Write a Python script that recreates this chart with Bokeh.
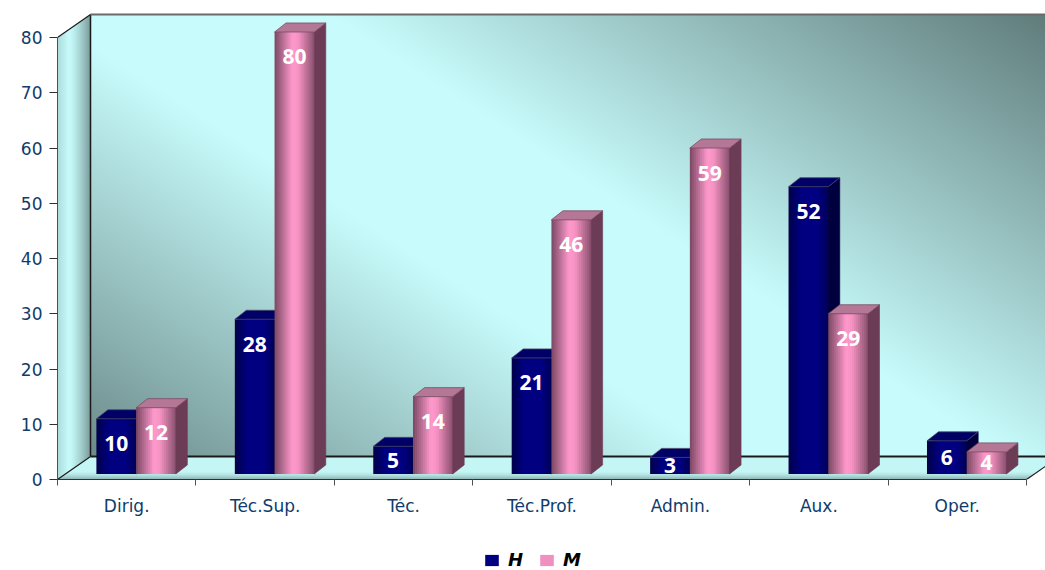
import numpy as np
from bokeh.plotting import figure
from bokeh.layouts import column
from bokeh.models import (Range1d, FixedTicker, CustomJSTickFormatter, Legend,
                          LegendItem, ColumnDataSource)
from bokeh.core.properties import value
from bokeh.embed import file_html
from bokeh.resources import INLINE

# ---- data -------------------------------------------------------------
categories = ["Dirig.", "Téc.Sup.", "Téc.", "Téc.Prof.", "Admin.", "Aux.", "Oper."]
h_values = [10, 28, 5, 21, 3, 52, 6]
m_values = [12, 80, 14, 46, 59, 29, 4]
y_ticks = [0, 10, 20, 30, 40, 50, 60, 70, 80]
series_names = ["H", "M"]

# ---- geometry of the pseudo-3D box ------------------------------------
N = len(categories)
Y_TOP = 80                 # top of the value axis
SX = 138.43                # px per category
SY = 5.525                 # px per value unit
FW, FH = 988, 467          # frame size in px
XMAX = FW / SX
YMAX = FH / SY
DX = 33 / SX               # box depth (x shift)
DY = 23 / SY               # box depth (y shift)

BAR_OFF = 0.281            # left edge of first bar inside a category
BAR_W = 0.287              # bar width (gap width 150%)
BASE = 1.0                 # bar base lifted by its depth position
BDX = 11.5 / SX            # bar depth
BDY = 9.0 / SY

TOP_BORDER, BOTTOM_BORDER, LEFT_BORDER = 12, 50, 57

p = figure(frame_width=FW, frame_height=FH, x_range=Range1d(0, XMAX), y_range=Range1d(0, YMAX),
           output_backend="svg", toolbar_location=None,
           min_border_left=LEFT_BORDER, min_border_right=0, min_border_top=TOP_BORDER,
           min_border_bottom=BOTTOM_BORDER,
           background_fill_color="white", border_fill_color="white")
p.outline_line_color = None
p.xgrid.visible = False
p.ygrid.visible = False

# ---- walls and floor as a shaded raster -------------------------------
def blend(c0, c1, f):
    c0 = np.array(c0, dtype=float)
    c1 = np.array(c1, dtype=float)
    return c0[None, None, :] * (1 - f[..., None]) + c1[None, None, :] * f[..., None]

xs = (np.arange(FW) + 0.5) / FW * XMAX
ys = (np.arange(FH) + 0.5) / FH * YMAX
X, Y = np.meshgrid(xs, ys)

light = (200, 252, 252)
dark = (94, 122, 121)

rgb = np.zeros((FH, FW, 3))
alpha = np.zeros((FH, FW))

# back wall: diagonal light band with darker corners
u = (X - DX) / N
v = (Y_TOP + DY - Y) / Y_TOP
t = u - 0.10 - 0.70 * v
f = np.clip((np.abs(t) - 0.15) / 0.75, 0, 1)
back = (X >= DX) & (Y >= DY) & (Y <= Y_TOP + DY)
col = blend(light, dark, f)
rgb[back] = col[back]
alpha[back] = 255

# left side wall: horizontal shading
su = np.clip(X / DX, 0, 1)
side = (X < DX) & (Y >= su * DY) & (Y <= Y_TOP + su * DY)
fs = np.where(su < 0.35, (0.35 - su) / 0.35 * 0.25,
              np.clip((su - 0.35) / 0.65, 0, 1) ** 1.3 * 0.75)
col = blend(light, dark, fs)
rgb[side] = col[side]
alpha[side] = 255

# floor: light, darkening toward its front edge
fv = np.clip(Y / DY, 0, 1)
floor = (Y < DY) & (X >= fv * DX) & (X <= N + fv * DX)
ff = np.clip((0.35 - fv) / 0.35, 0, 1) ** 1.5 * 0.55
col = blend((196, 246, 246), dark, ff)
rgb[floor] = col[floor]
alpha[floor] = 255

img = np.zeros((FH, FW), dtype=np.uint32)
view = img.view(dtype=np.uint8).reshape((FH, FW, 4))
view[..., 0] = rgb[..., 0].astype(np.uint8)
view[..., 1] = rgb[..., 1].astype(np.uint8)
view[..., 2] = rgb[..., 2].astype(np.uint8)
view[..., 3] = alpha.astype(np.uint8)
p.image_rgba(image=[img], x=0, y=0, dw=XMAX, dh=YMAX)

# box edges
edge = "#1a1a1a"
p.line([0, DX], [Y_TOP, Y_TOP + DY], line_color=edge, line_width=1.2)
p.line([0, DX], [0, DY], line_color=edge, line_width=1.2)
p.line([DX, DX], [DY, Y_TOP + DY], line_color=edge, line_width=1.5)
p.line([DX, XMAX], [Y_TOP + DY, Y_TOP + DY], line_color="#6a6a6a", line_width=2)
p.line([DX, N + DX], [DY, DY], line_color=edge, line_width=2)
p.line([N, N + DX], [0, DY], line_color=edge, line_width=1.2)

# ---- bars -------------------------------------------------------------
def profile(stops, tt):
    for (p0, c0), (p1, c1) in zip(stops[:-1], stops[1:]):
        if p0 <= tt <= p1:
            a = (tt - p0) / (p1 - p0)
            c = [round(c0[k] + (c1[k] - c0[k]) * a) for k in range(3)]
            return "#%02x%02x%02x" % tuple(c)
    return "#%02x%02x%02x" % tuple(stops[-1][1])

styles = [
    dict(front=[(0, (0, 0, 0x48)), (0.3, (0, 0, 0x80)), (0.75, (0, 0, 0x80)), (1, (0, 0, 0x58))],
         side="#00003e", top="#000066", top_line="#4a4a66", legend="#000080"),
    dict(front=[(0, (0x7a, 0x48, 0x62)), (0.45, (0xff, 0x99, 0xcc)), (0.6, (0xf6, 0x93, 0xc3)),
                (1, (0x88, 0x50, 0x6e))],
         side="#6c3b55", top="#b47896", top_line="#7a4a62", legend="#f090c0"),
]

NSTRIP = 20
label_x, label_y, label_t = [], [], []
for s, vals in enumerate([h_values, m_values]):
    st = styles[s]
    sl, sr, sb, stp, sc = [], [], [], [], []
    side_xs, side_ys, top_xs, top_ys = [], [], [], []
    for i, val in enumerate(vals):
        x0 = i + BAR_OFF + s * BAR_W
        x1 = x0 + BAR_W
        y1 = BASE + val
        # shaded front face: overlapping strips, each running to the right edge
        for k in range(NSTRIP):
            sl.append(x0 + k * BAR_W / NSTRIP)
            sr.append(x1)
            sb.append(BASE)
            stp.append(y1)
            sc.append(profile(st["front"], (k + 0.5) / NSTRIP))
        side_xs.append([x1, x1 + BDX, x1 + BDX, x1])
        side_ys.append([BASE, BASE + BDY, y1 + BDY, y1])
        top_xs.append([x0, x1, x1 + BDX, x0 + BDX])
        top_ys.append([y1, y1, y1 + BDY, y1 + BDY])
        h_px = val * SY
        off = min(25.0, h_px / 2.0)
        label_x.append(x0 + BAR_W / 2)
        label_y.append(y1 - off / SY)
        label_t.append(str(val))
    p.quad(left="l", right="r", bottom="b", top="t", fill_color="c", line_color=None,
           source=ColumnDataSource(dict(l=sl, r=sr, b=sb, t=stp, c=sc)))
    p.patches(side_xs, side_ys, fill_color=st["side"], line_color=st["side"], line_width=0.6)
    p.patches(top_xs, top_ys, fill_color=st["top"], line_color=st["top_line"], line_width=0.8)

p.text(x=label_x, y=label_y, text=label_t, text_color="white", text_font=value("Open Sans"),
       text_font_style="bold", text_font_size="21px", text_align="center", text_baseline="middle")

# ---- axes -------------------------------------------------------------
tick_color = "#0f3c6c"
ya = p.yaxis[0]
ya.ticker = FixedTicker(ticks=y_ticks)
ya.bounds = (0, Y_TOP)
ya.axis_line_color = "#505050"
ya.major_tick_line_color = "#303030"
ya.major_tick_out = 8
ya.major_tick_in = 0
ya.minor_tick_line_color = None
ya.major_label_standoff = 7
ya.major_label_text_font = "DejaVu Sans"
ya.major_label_text_font_size = "17px"
ya.major_label_text_color = tick_color

xa = p.xaxis[0]
xa.ticker = FixedTicker(ticks=[i + 0.5 for i in range(N)], minor_ticks=list(range(N + 1)))
xa.formatter = CustomJSTickFormatter(args=dict(names=categories),
                                     code="return names[Math.floor(tick)] || '';")
xa.bounds = (0, N)
xa.axis_line_color = "#303030"
xa.axis_line_width = 1.2
xa.major_tick_out = 0
xa.major_tick_in = 0
xa.minor_tick_out = 6
xa.minor_tick_in = 0
xa.minor_tick_line_color = "#505050"
xa.major_label_standoff = 10
xa.major_label_text_font = "DejaVu Sans"
xa.major_label_text_font_size = "17px"
xa.major_label_text_color = tick_color

# ---- legend strip below the chart ------------------------------------
total_w = LEFT_BORDER + FW
main_h = TOP_BORDER + FH + BOTTOM_BORDER
leg_h = 570 - main_h
lp = figure(width=total_w, height=leg_h, x_range=Range1d(0, 1), y_range=Range1d(0, 1),
            output_backend="svg", toolbar_location=None, x_axis_type=None, y_axis_type=None,
            min_border=0, background_fill_color="white", border_fill_color="white")
lp.outline_line_color = None
lp.xgrid.visible = False
lp.ygrid.visible = False
legend_items = []
for s, name in enumerate(series_names):
    # swatch source kept outside the visible range; only the legend shows it
    swatch = lp.quad(left=[-3], right=[-2], bottom=[-3], top=[-2],
                     fill_color=styles[s]["legend"], line_color=None)
    legend_items.append(LegendItem(label=name, renderers=[swatch]))
legend = Legend(items=legend_items, orientation="horizontal", location=(426, 0),
                glyph_width=17, glyph_height=14, label_text_font="DejaVu Sans",
                label_text_font_style="bold italic", label_text_font_size="18px",
                label_text_color="black", border_line_color=None, background_fill_alpha=0,
                spacing=10, label_standoff=8, padding=0, margin=0)
lp.add_layout(legend)

layout = column(p, lp, spacing=0)
open("out.html", "w").write(file_html(layout, INLINE))
